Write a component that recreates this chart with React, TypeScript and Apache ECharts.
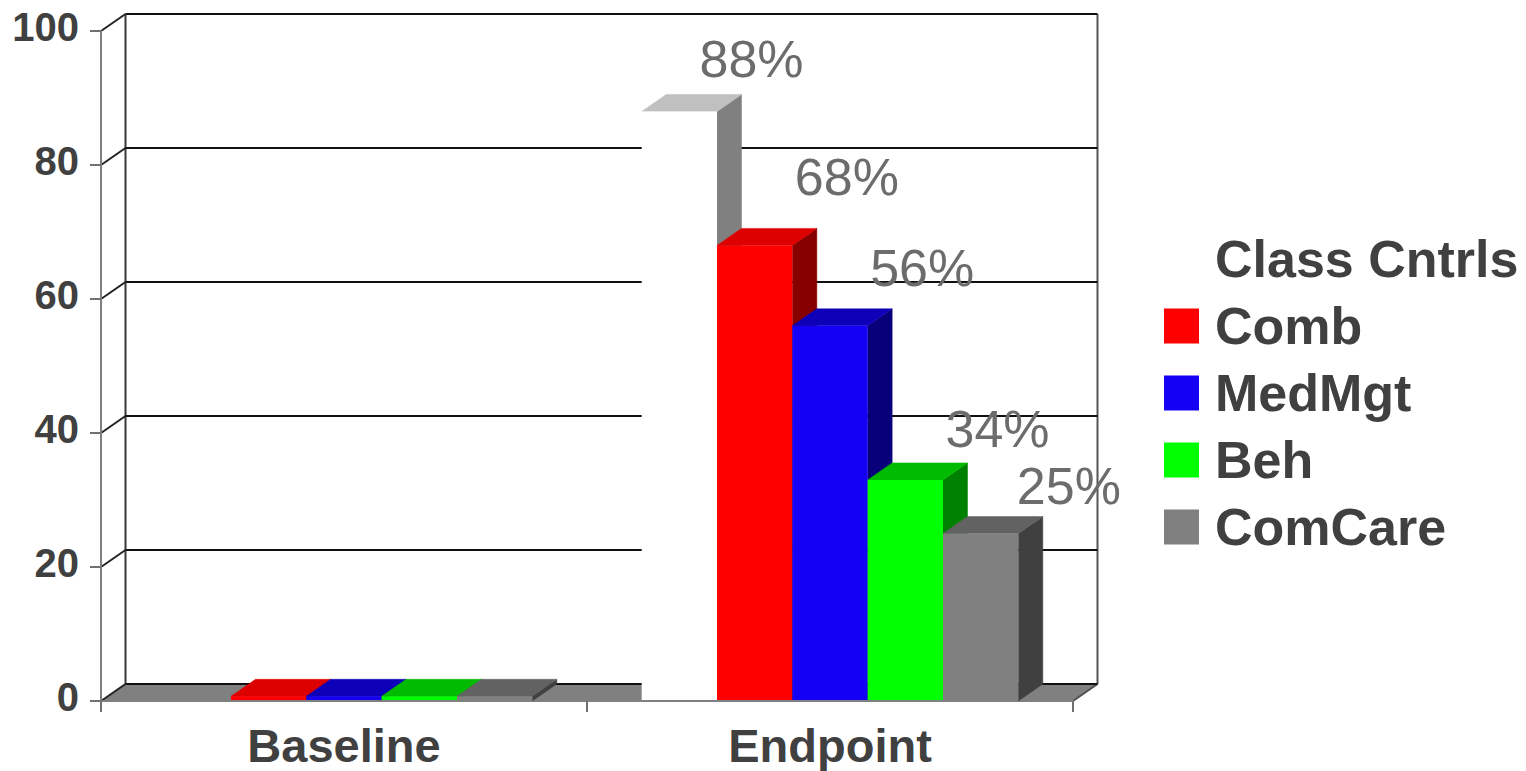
import React, { useEffect, useRef } from "react";
import * as echarts from "echarts";

const categories = ["Baseline", "Endpoint"];
const yTicks = [0, 20, 40, 60, 80, 100];
const seriesNames = ["Class Cntrls", "Comb", "MedMgt", "Beh", "ComCare"];
const classCntrlsValues = [0, 88];
const combValues = [0.7, 68];
const medMgtValues = [0.7, 56];
const behValues = [0.7, 33];
const comCareValues = [0.7, 25];
const endpointLabels = ["88%", "68%", "56%", "34%", "25%"];

const allValues = [classCntrlsValues, combValues, medMgtValues, behValues, comCareValues];

// styling
const DX = 24.5;
const DY = -17;
const BAR_FRAC = 0.155;
const FONT = "'Liberation Sans', Arial, sans-serif";
const frontColors = ["#ffffff", "#ff0000", "#1400f5", "#00ff00", "#808080"];
const topColors = ["#c0c0c0", "#dc0000", "#0e00b8", "#00bb00", "#626262"];
const sideColors = ["#808080", "#860000", "#08007a", "#008000", "#404040"];
const labelNudges = [
  [10, 9],
  [30, 25],
  [30, 15],
  [30, 8],
  [26, 5],
];

const poly = (points: number[][], fill: string) => ({
  type: "polygon",
  shape: { points },
  style: { fill, stroke: fill, lineWidth: 0.5 },
});

const seg = (x1: number, y1: number, x2: number, y2: number, stroke: string, lineWidth = 2) => ({
  type: "line",
  shape: { x1, y1, x2, y2 },
  style: { stroke, lineWidth },
});

const renderWall = (params: any, api: any) => {
  const cs = params.coordSys;
  const tick = api.value(1);
  const y = api.coord([0, tick])[1];
  const left = cs.x;
  const right = cs.x + cs.width;
  const children: any[] = [];
  if (tick === 0) {
    children.push(
      poly([[left, y], [left + DX, y + DY], [right + DX, y + DY], [right, y]], "#808080"),
      seg(left + DX, cs.y + DY, left + DX, y + DY, "#383838"),
      seg(right + DX, cs.y + DY, right + DX, y + DY, "#555555"),
      seg(right, y, right + DX, y + DY, "#505050")
    );
  }
  children.push(
    seg(left + DX, y + DY, right + DX, y + DY, "#111111"),
    seg(left, y, left + DX, y + DY, "#222222")
  );
  return { type: "group", children };
};

const makeRenderBar = (seriesIndex: number) => (params: any, api: any) => {
  const cat = api.value(0);
  const val = api.value(1);
  if (!(val > 0)) return null;
  const [cx, yTop] = api.coord([cat, val]);
  const yBase = api.coord([cat, 0])[1];
  const band = api.size([1, 0])[0];
  const w = band * BAR_FRAC;
  const x0 = cx - 2.5 * w + seriesIndex * w;
  const x1 = x0 + w;
  const children: any[] = [
    poly([[x1, yTop], [x1 + DX, yTop + DY], [x1 + DX, yBase + DY], [x1, yBase]], sideColors[seriesIndex]),
    poly([[x0, yTop], [x0 + DX, yTop + DY], [x1 + DX, yTop + DY], [x1, yTop]], topColors[seriesIndex]),
    {
      type: "rect",
      shape: { x: x0, y: yTop, width: w, height: yBase - yTop },
      style: { fill: frontColors[seriesIndex] },
    },
  ];
  if (cat === 1) {
    const [nx, ny] = labelNudges[seriesIndex];
    children.push({
      type: "text",
      x: x1 + DX + nx,
      y: yTop + DY - ny,
      z2: 50,
      style: {
        text: endpointLabels[seriesIndex],
        fontSize: 52,
        fontFamily: FONT,
        fill: "#6c6c6c",
        align: "center",
        verticalAlign: "bottom",
      },
    });
  }
  return { type: "group", children };
};

export default function App() {
  const ref = useRef<HTMLDivElement>(null);
  useEffect(() => {
    const chart = echarts.init(ref.current!, undefined, { renderer: "svg" });
    chart.setOption({
      animation: false,
      backgroundColor: "#ffffff",
      grid: { left: 101, top: 31, width: 972, height: 670, containLabel: false },
      legend: {
        orient: "vertical",
        left: 1164,
        top: 233,
        itemWidth: 35,
        itemHeight: 35,
        itemGap: 15,
        padding: 0,
        selectedMode: false,
        textStyle: {
          color: "#404040",
          fontFamily: FONT,
          fontWeight: "bold",
          fontSize: 52,
          lineHeight: 51,
          padding: [0, 0, 0, 11],
        },
        data: seriesNames.map((name, i) => ({
          name,
          icon: "rect",
          itemStyle: { color: frontColors[i] },
        })),
      },
      xAxis: {
        type: "category",
        data: categories,
        z: 5,
        axisLine: { show: true, lineStyle: { color: "#808080", width: 2 } },
        axisTick: { show: true, length: 11, alignWithLabel: false, lineStyle: { color: "#707070", width: 2 } },
        axisLabel: {
          color: "#404040",
          fontFamily: FONT,
          fontWeight: "bold",
          fontSize: 47,
          lineHeight: 40,
          margin: 24,
          interval: 0,
        },
        splitLine: { show: false },
      },
      yAxis: {
        type: "value",
        min: 0,
        max: 100,
        interval: 20,
        z: 5,
        axisLine: { show: true, lineStyle: { color: "#808080", width: 2 } },
        axisTick: { show: true, length: 11, lineStyle: { color: "#707070", width: 2 } },
        axisLabel: {
          color: "#404040",
          fontFamily: FONT,
          fontWeight: "bold",
          fontSize: 40,
          margin: 22,
          verticalAlign: "bottom",
          lineHeight: 8,
        },
        splitLine: { show: false },
      },
      series: [
        {
          type: "custom",
          name: "wall",
          z: 1,
          silent: true,
          renderItem: renderWall,
          encode: { x: 0, y: 1 },
          data: yTicks.map((t) => [0, t]),
        },
        ...seriesNames.map((name, i) => ({
          type: "custom",
          name,
          z: 2 + i,
          silent: true,
          renderItem: makeRenderBar(i),
          encode: { x: 0, y: 1 },
          itemStyle: { color: frontColors[i] },
          data: allValues[i].map((v, c) => [c, v]),
        })),
      ],
    });
    return () => chart.dispose();
  }, []);
  return (
    <div
      ref={ref}
      style={{ position: "fixed", left: 0, top: 0, width: 1526, height: 771 }}
    />
  );
}
